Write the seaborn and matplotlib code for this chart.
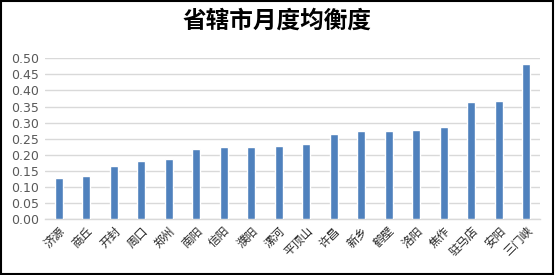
import matplotlib
matplotlib.use("Agg")
import matplotlib.pyplot as plt
import seaborn as sns
import pandas as pd

cities = ["济源", "商丘", "开封", "周口", "郑州", "南阳", "信阳", "濮阳", "漯河",
          "平顶山", "许昌", "新乡", "鹤壁", "洛阳", "焦作", "驻马店", "安阳", "三门峡"]
values = [0.128, 0.135, 0.166, 0.181, 0.188, 0.219, 0.225, 0.225, 0.228,
          0.233, 0.264, 0.274, 0.274, 0.277, 0.286, 0.364, 0.367, 0.482]
yticks = [0.00, 0.05, 0.10, 0.15, 0.20, 0.25, 0.30, 0.35, 0.40, 0.45, 0.50]
title = "省辖市月度均衡度"

sns.set_theme(style="white")
plt.rcParams['font.family'] = ['Noto Sans CJK SC', 'DejaVu Sans']

df = pd.DataFrame({"city": cities, "value": values})

fig = plt.figure(figsize=(5.55, 2.75), dpi=100)
ax = fig.add_axes([45/555, 1 - 219/275, 495/555, (219 - 58.3)/275])
sns.barplot(data=df, x="city", y="value", color="#4F81BD", width=0.29,
            saturation=1, ax=ax, zorder=3)
ax.set_ylim(0, 0.5)
ax.set_xlim(-0.5, len(cities) - 0.5)
ax.set_yticks(yticks)
ax.set_yticklabels([f"{v:.2f}" for v in yticks], fontsize=9, color="#595959",
                   family=['DejaVu Sans'])
ax.set_xticks(range(len(cities)))
ax.set_xticklabels(cities, rotation=45, ha="right", rotation_mode="anchor",
                   fontsize=8.5, color="#262626")
ax.tick_params(axis="both", length=0, pad=4)
ax.yaxis.grid(True, color="#D9D9D9", linewidth=1, zorder=0)
ax.xaxis.grid(False)
for s in ["top", "right", "left"]:
    ax.spines[s].set_visible(False)
ax.spines["bottom"].set_color("#D9D9D9")
ax.spines["bottom"].set_linewidth(1)
ax.set_xlabel("")
ax.set_ylabel("")

fig.text(0.499, 1 - 21/275, title, ha="center", va="center", fontsize=17,
         fontweight="bold", color="#000000")

border = plt.Rectangle((0.002, 0.004), 0.994, 0.992, transform=fig.transFigure,
                       fill=False, edgecolor="black", linewidth=1.5)
fig.patches.append(border)

fig.savefig("out.png", dpi=100)
